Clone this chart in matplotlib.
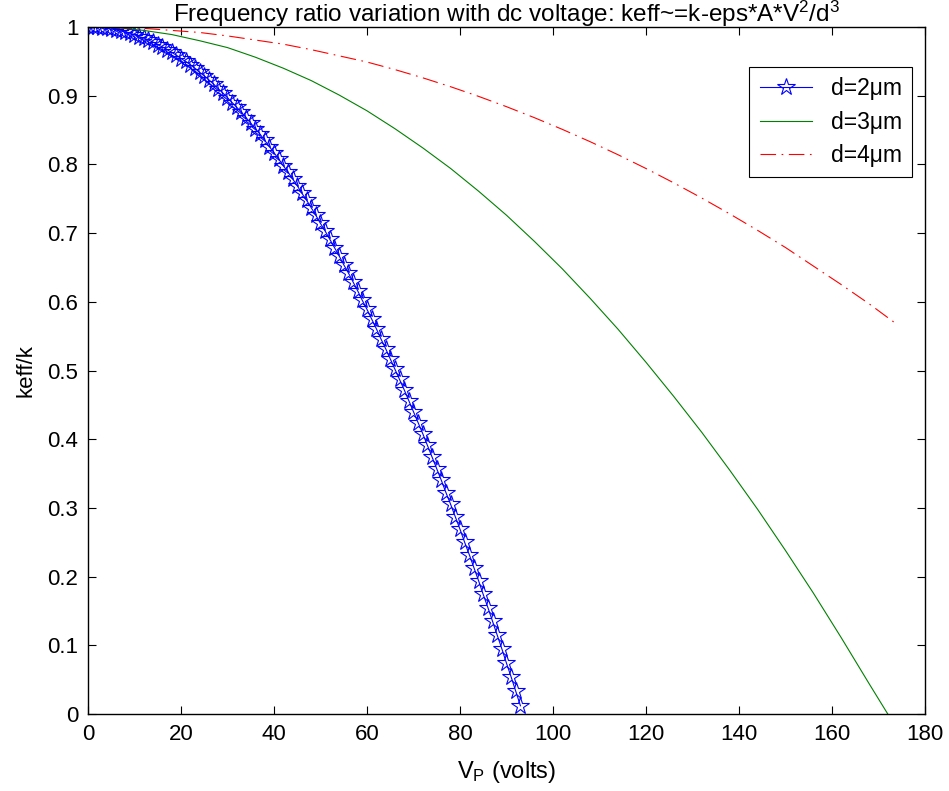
import matplotlib
matplotlib.use("Agg")
import matplotlib.pyplot as plt

OUTPUT_FILE = "out.png"

# d = 2 um, one point per volt (star markers)
v_d2 = list(range(0, 94))
keff_d2 = [1.000, 1.000, 1.000, 0.999, 0.998, 0.997, 0.996, 0.994, 0.993, 0.991,
           0.989, 0.986, 0.984, 0.981, 0.978, 0.974, 0.971, 0.967, 0.963, 0.959,
           0.954, 0.950, 0.945, 0.940, 0.934, 0.929, 0.923, 0.917, 0.910, 0.904,
           0.897, 0.890, 0.883, 0.876, 0.868, 0.860, 0.852, 0.844, 0.835, 0.826,
           0.817, 0.808, 0.798, 0.789, 0.779, 0.769, 0.758, 0.748, 0.737, 0.726,
           0.714, 0.703, 0.691, 0.679, 0.667, 0.654, 0.642, 0.629, 0.616, 0.602,
           0.589, 0.575, 0.561, 0.546, 0.532, 0.517, 0.502, 0.487, 0.472, 0.456,
           0.440, 0.424, 0.408, 0.391, 0.374, 0.357, 0.340, 0.322, 0.305, 0.287,
           0.269, 0.250, 0.232, 0.213, 0.194, 0.174, 0.155, 0.135, 0.115, 0.095,
           0.074, 0.054, 0.033, 0.012]

# d = 3 um
v_d3 = [0, 6, 12, 18, 24, 30, 36, 42, 48, 54, 60, 66, 72, 78, 84, 90, 96, 102,
        108, 114, 120, 126, 132, 138, 144, 150, 156, 162, 168, 172]
keff_d3 = [1.000, 0.999, 0.995, 0.989, 0.980, 0.970, 0.956, 0.940, 0.922, 0.901,
           0.878, 0.852, 0.824, 0.794, 0.761, 0.726, 0.688, 0.648, 0.605, 0.560,
           0.512, 0.462, 0.410, 0.355, 0.298, 0.238, 0.176, 0.111, 0.044, 0.000]

# d = 4 um
v_d4 = [0, 6, 12, 18, 24, 30, 36, 42, 48, 54, 60, 66, 72, 78, 84, 90, 96, 102,
        108, 114, 120, 126, 132, 138, 144, 150, 156, 162, 168, 174]
keff_d4 = [1.000, 0.999, 0.998, 0.995, 0.992, 0.987, 0.981, 0.975, 0.967, 0.958,
           0.949, 0.938, 0.926, 0.913, 0.899, 0.884, 0.868, 0.851, 0.833, 0.814,
           0.794, 0.773, 0.751, 0.728, 0.704, 0.679, 0.652, 0.625, 0.597, 0.567]

labels = ["d=2\u03bcm", "d=3\u03bcm", "d=4\u03bcm"]
x_ticks = [0, 20, 40, 60, 80, 100, 120, 140, 160, 180]
y_ticks = [0, 0.1, 0.2, 0.3, 0.4, 0.5, 0.6, 0.7, 0.8, 0.9, 1]
y_ticklabels = ["0", "0.1", "0.2", "0.3", "0.4", "0.5", "0.6", "0.7", "0.8", "0.9", "1"]

plt.rcParams["font.family"] = ["Liberation Sans", "DejaVu Sans"]
plt.rcParams["mathtext.fontset"] = "custom"
plt.rcParams["mathtext.rm"] = "Liberation Sans"
plt.rcParams["mathtext.it"] = "Liberation Sans"


def plot_keff(output_filename: str) -> None:
	fig = plt.figure(figsize=(9.49, 7.91), dpi=100)
	ax = fig.add_axes([0.0927, 0.0973, 0.882, 0.8686])

	ax.plot(v_d2, keff_d2, color="blue", lw=0.8, marker="*", ms=13,
			markerfacecolor="none", markeredgewidth=0.8, label=labels[0])
	ax.plot(v_d3, keff_d3, color=(0, 0.5, 0), lw=0.8, label=labels[1])
	ax.plot(v_d4, keff_d4, color="red", lw=0.8, linestyle=(0, (14, 5, 1.5, 5)),
			label=labels[2])

	ax.set_xlim(0, 180)
	ax.set_ylim(0, 1)
	ax.set_xticks(x_ticks)
	ax.set_yticks(y_ticks)
	ax.set_yticklabels(y_ticklabels)
	ax.tick_params(direction="in", length=6, width=0.8, labelsize=16,
				   top=True, right=True, pad=7)
	for spine in ax.spines.values():
		spine.set_linewidth(1.0)

	ax.set_xlabel(r"V$_{\mathrm{P}}$ (volts)", fontsize=17, labelpad=10)
	ax.set_ylabel("keff/k", fontsize=16, labelpad=8)
	ax.set_title(r"Frequency ratio variation with dc voltage: keff~=k-eps*A*V$^{\mathrm{2}}$/d$^{\mathrm{3}}$",
				 fontsize=17.5, pad=4)

	leg = ax.legend(loc="upper right", bbox_to_anchor=(0.9845, 0.9418),
					fontsize=16.5, fancybox=False, framealpha=1,
					edgecolor="black", handlelength=2.3, borderaxespad=0,
					labelspacing=0.45, borderpad=0.45, handletextpad=0.8)
	leg.get_frame().set_linewidth(0.8)

	fig.savefig(output_filename, dpi=100)
	plt.close(fig)


if __name__ == "__main__":
	plot_keff(OUTPUT_FILE)
